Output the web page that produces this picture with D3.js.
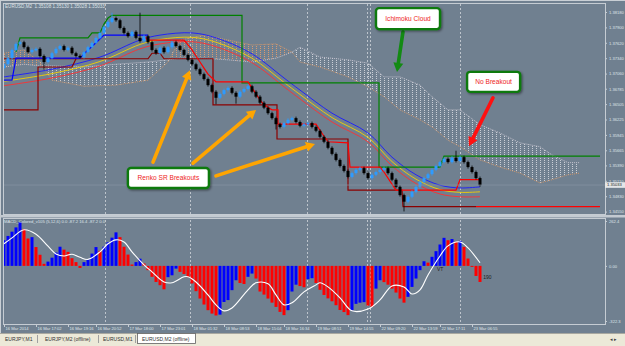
<!DOCTYPE html>
<html>
<head>
<meta charset="utf-8">
<script src="https://cdn.jsdelivr.net/npm/d3@7"></script>
<style>
  body { margin: 0; background: #708090; }
  svg { display: block; }
</style>
</head>
<body>
<svg id="chart" width="625" height="346"></svg>
<script>
// EURUSD M2 (offline renko) with Ichimoku, MA bands, Renko SR lines and MACD_Colored

// ---- price bars (close of each bar, open = previous close) ----
var firstOpen = 1.3716;
var closes = [
  1.3723, 1.3734, 1.3749, 1.3760, 1.3763, 1.3754, 1.3745, 1.3749, 1.3751, 1.3738,
  1.3727, 1.3734, 1.3743, 1.3751, 1.3756, 1.3749, 1.3753, 1.3743, 1.3738, 1.3736,
  1.3745, 1.3754, 1.3762, 1.3771, 1.3780, 1.3791, 1.3800, 1.3807, 1.3803, 1.3789,
  1.3780, 1.3774, 1.3782, 1.3771, 1.3765, 1.3774, 1.3763, 1.3749, 1.3743, 1.3753,
  1.3745, 1.3754, 1.3763, 1.3756, 1.3749, 1.3740, 1.3731, 1.3723, 1.3714, 1.3705,
  1.3696, 1.3685, 1.3673, 1.3662, 1.3669, 1.3676, 1.3680, 1.3671, 1.3664, 1.3673,
  1.3678, 1.3683, 1.3673, 1.3664, 1.3653, 1.3644, 1.3634, 1.3625, 1.3614, 1.3609,
  1.3616, 1.3622, 1.3625, 1.3618, 1.3611, 1.3614, 1.3616, 1.3609, 1.3602, 1.3591,
  1.3582, 1.3571, 1.3560, 1.3549, 1.3538, 1.3529, 1.3518, 1.3525, 1.3531, 1.3534,
  1.3525, 1.3516, 1.3522, 1.3527, 1.3531, 1.3534, 1.3525, 1.3513, 1.3500, 1.3485,
  1.3473, 1.3482, 1.3491, 1.3500, 1.3509, 1.3516, 1.3523, 1.3531, 1.3538, 1.3545,
  1.3551, 1.3545, 1.3553, 1.3547, 1.3554, 1.3545, 1.3536, 1.3527, 1.3516, 1.3503
];
// bars with visible wicks
var spikeIdx  = [10, 27, 34, 53, 58, 68, 100, 113];
var spikeHigh = [null, 1.3814, 1.3814, null, null, null, null, 1.3563];
var spikeLow  = [1.3716, null, null, 1.3653, 1.3654, 1.3607, 1.3458, null];
var lastPrice = 1.35033;

// ---- MA band (blue / yellow / red) ----
var maIdx    = [0, 12, 24, 34, 39, 47, 53, 62, 70, 74, 82, 91, 97, 103, 109, 114, 119];
var maBlue   = [1.3700, 1.3714, 1.3736, 1.3767, 1.3776, 1.3780, 1.3771, 1.3742, 1.3698, 1.3676, 1.3634, 1.3598, 1.3554, 1.3522, 1.3503, 1.3498, 1.3500];
var maYellow = [1.3692, 1.3706, 1.3728, 1.3759, 1.3768, 1.3772, 1.3763, 1.3734, 1.3690, 1.3668, 1.3626, 1.3590, 1.3546, 1.3514, 1.3495, 1.3490, 1.3491];
var maRed    = [1.3684, 1.3698, 1.3720, 1.3751, 1.3760, 1.3764, 1.3755, 1.3726, 1.3682, 1.3660, 1.3618, 1.3582, 1.3538, 1.3506, 1.3487, 1.3482, 1.3482];

// ---- Ichimoku cloud (shifted forward) ----
var cloudIdx = [0, 5, 9, 12, 20, 28, 36, 41, 44, 50, 56, 62, 68, 72, 74, 79, 86, 91, 95, 99, 104, 107, 111, 114, 119, 124, 129, 134, 137, 141, 144];
var spanA = [1.3743, 1.3749, 1.3727, 1.3694, 1.3683, 1.3685, 1.3694, 1.3727, 1.3767, 1.3776, 1.3767, 1.3758, 1.3760, 1.3745, 1.3727, 1.3718,
             1.3700, 1.3682, 1.3664, 1.3640, 1.3622, 1.3609, 1.3585, 1.3573, 1.3549, 1.3536, 1.3525, 1.3507, 1.3513, 1.3522, 1.3525];
var spanB = [1.3718, 1.3723, 1.3720, 1.3720, 1.3718, 1.3723, 1.3727, 1.3731, 1.3734, 1.3734, 1.3731, 1.3727, 1.3734, 1.3745, 1.3754, 1.3736,
             1.3731, 1.3725, 1.3700, 1.3700, 1.3685, 1.3664, 1.3640, 1.3640, 1.3613, 1.3598, 1.3580, 1.3573, 1.3558, 1.3544, 1.3544];

// ---- step lines [bar, price] ----
var greenLine = [[3, 1.3745], [4, 1.3771], [21, 1.3771], [22, 1.3780], [24, 1.3780], [25, 1.3796], [26, 1.3807], [27, 1.3812],
                 [59.5, 1.3812], [59.5, 1.3689], [93.75, 1.3689], [93.75, 1.3536], [109, 1.3536], [110, 1.3556], [149, 1.3556]];
var blueStep = [[0, 1.3694], [2, 1.3694], [3, 1.3734], [19, 1.3734], [21, 1.3749], [23, 1.3762], [25, 1.3776], [36, 1.3776]];
var maroonHook = [[0, 1.3640], [8.5, 1.3640], [8.5, 1.3718], [17, 1.3718], [18, 1.3733]];
var supportLine = [[0, 1.3733], [36, 1.3733], [37, 1.3743], [39, 1.3743], [40, 1.3733], [52.25, 1.3733], [52.25, 1.3649], [68.25, 1.3649],
                   [68.25, 1.3587], [86, 1.3587], [86, 1.3494], [99.5, 1.3494], [99.75, 1.3464], [118, 1.3464]];
var supportExt = [[118, 1.3464], [149, 1.3464]];
var resistLine = [[35, 1.3774], [36, 1.3767], [45, 1.3767], [46, 1.3758], [47, 1.3749], [48, 1.3738], [49, 1.3727], [50, 1.3716], [51, 1.3705],
                  [52, 1.3698], [53, 1.3691], [61, 1.3691], [62, 1.3680], [63, 1.3669], [64, 1.3658], [65, 1.3649], [67, 1.3640], [68.5, 1.3640],
                  [68.5, 1.3614], [78, 1.3614], [79, 1.3603], [80, 1.3592], [81, 1.3582], [86, 1.3580], [86.5, 1.3536], [94, 1.3536],
                  [95, 1.3527], [96, 1.3516], [97, 1.3505], [98, 1.3494], [113, 1.3494], [114, 1.3513], [119, 1.3513]];

// ---- vertical lines (bar positions) ----
var vlines = [25.25, 46.5, 75.75, 90.75, 91.5, 114];

// ---- MACD_Colored ----
var macdHist = [
  150, 175, 200, 225, 255, 215, 160, 168, 110, 65,
  12, 25, 48, 78, 112, 95, 82, 45, 22, -12,
  22, 40, 72, 110, 88, 112, 138, 165, 196, 168,
  112, 66, 8, 22, 42, 14, -25, -64, -94, -113,
  -137, -66, -55, -16, -35, -48, -66, -103, -148, -191,
  -226, -259, -279, -290, -285, -211, -200, -142, -84, -100,
  -106, -64, -45, -74, -150, -168, -191, -215, -240, -269,
  -288, -259, -150, -110, -118, -125, -78, -72, -100, -140,
  -170, -190, -207, -230, -258, -270, -288, -260, -222, -215,
  -212, -232, -240, -133, -84, -95, -110, -133, -156, -191,
  -215, -181, -123, -74, -25, 27, 19, 53, 86, 125,
  164, 150, 157, 140, 146, 111, 43, -6, -59, -94
];
var sigIdx = [0, 2, 5, 8, 11, 13, 15, 17, 19, 21, 24, 26, 28, 30, 32, 35, 37, 40, 42, 45,
              46, 48, 51, 53, 55, 57, 61, 63, 66, 68, 70, 72, 75, 78, 79, 81, 84, 87, 91, 94,
              97, 100, 102, 104, 106, 109, 111, 114, 116, 119];
var sigVal = [129, 164, 211, 185, 115, 70, 58, 68, 50, 38, 82, 129, 152, 140, 82, 6, -35, -94, -99, -64,
              -64, -94, -170, -228, -263, -246, -140, -99, -105, -170, -228, -216, -152, -111, -99, -123, -187, -263, -252, -199,
              -117, -123, -164, -140, -53, 58, 117, 140, 105, 18];
var macdNotes = [[108.25, -23, "VT"], [119.8, -70, "190"]];

// ---- axes / texts ----
var priceTicks = ["1.38180", "1.37900", "1.37620", "1.37340", "1.37060", "1.36785", "1.36505",
                  "1.36225", "1.35945", "1.35665", "1.35390", "1.35110", "1.34830", "1.34550"];
var macdTicks = [262.4, 0, -322.3];
var macdTickText = ["262.4", "0.00", "-322.3"];
var timeIdx = [0, 8, 16, 23, 31, 39, 47, 55, 63, 70, 78, 86, 94, 102, 109, 117];
var timeText = ["16 Mar 2014", "16 Mar 17:02", "16 Mar 19:16", "16 Mar 20:52", "17 Mar 18:00", "17 Mar 23:01",
                "18 Mar 01:32", "18 Mar 08:53", "18 Mar 15:04", "18 Mar 16:34", "19 Mar 08:51", "19 Mar 14:55",
                "22 Mar 09:20", "22 Mar 13:59", "22 Mar 17:11", "23 Mar 06:55"];
var tabs = ["EURJPY,M1", "EURJPY,M2 (offline)", "EURUSD,M1", "EURUSD,M2 (offline)"];
var titleText = "EURUSD,M2  1.35108 1.35130 1.35028 1.35033";
var macdTitle = "MACD_Colored_v105 (5,12,6) 0.0 -87.2 16.4 -87.2 0.0";

// annotations: box centre [bar, price], arrows [bar, price] tail -> head
var boxes = [
  { i: 41.1, p: 1.3516, w: 81, h: 20, text: "Renko SR Breakouts" },
  { i: 101,  p: 1.3806, w: 64, h: 21, text: "Ichimoku Cloud" },
  { i: 122.4, p: 1.3691, w: 53, h: 20, text: "No Breakout" }
];
var arrows = [
  { from: [37.25, 1.3545], to: [46.5, 1.3712], color: "#ffa500" },
  { from: [47.25, 1.3543], to: [63, 1.3640], color: "#ffa500" },
  { from: [53, 1.3520], to: [77.75, 1.3578], color: "#ffa500" },
  { from: [99.75, 1.3782], to: [98.25, 1.3709], color: "#138a13" },
  { from: [122.25, 1.3662], to: [116.25, 1.3574], color: "#ff1010" }
];

// ================= drawing =================
var svg = d3.select("#chart");
var fontSmall = "'Liberation Sans', Arial, sans-serif";
var lightText = "#dfe4e9";

var x = d3.scaleLinear().domain([0, 119]).range([4, 480]);
var y = d3.scaleLinear().domain([1.3455, 1.3818]).range([211.6, 12]);
var ym = d3.scaleLinear().domain([-322.3, 262.4]).range([321, 221]);

var defs = svg.append("defs");
defs.append("clipPath").attr("id", "clipMain")
    .append("rect").attr("x", 4).attr("y", 4).attr("width", 601).attr("height", 210);
defs.append("clipPath").attr("id", "clipSub")
    .append("rect").attr("x", 4).attr("y", 219).attr("width", 601).attr("height", 105);

function dots(id, color) {
  var pat = defs.append("pattern").attr("id", id)
      .attr("patternUnits", "userSpaceOnUse")
      .attr("width", 4).attr("height", 2);
  pat.append("rect").attr("x", 0).attr("y", 0).attr("width", 1).attr("height", 1).attr("fill", color);
}
dots("dotWhite", "#c9ced6");
dots("dotOrange", "#d99a70");

var shadow = defs.append("filter").attr("id", "shadow").attr("x", "-20%").attr("y", "-30%")
    .attr("width", "140%").attr("height", "170%");
shadow.append("feDropShadow").attr("dx", 1.2).attr("dy", 1.2).attr("stdDeviation", 0.8)
    .attr("flood-color", "#000").attr("flood-opacity", 0.45);

// background + frames
svg.append("rect").attr("width", 625).attr("height", 346).attr("fill", "#708090");
svg.append("line").attr("x1", 0.5).attr("x2", 0.5).attr("y1", 0).attr("y2", 333).attr("stroke", "#c9cfd5");
svg.append("line").attr("x1", 0).attr("x2", 625).attr("y1", 0.5).attr("y2", 0.5).attr("stroke", "#c9cfd5");
svg.append("rect").attr("x", 0).attr("y", 215).attr("width", 625).attr("height", 2.5).attr("fill", "#c3cad1");
svg.append("rect").attr("x", 3.5).attr("y", 3.5).attr("width", 602).attr("height", 211)
    .attr("fill", "none").attr("stroke", "#c5ccd3");
svg.append("rect").attr("x", 3.5).attr("y", 218.5).attr("width", 602).attr("height", 106)
    .attr("fill", "none").attr("stroke", "#c5ccd3");

var main = svg.append("g").attr("clip-path", "url(#clipMain)");
var sub = svg.append("g").attr("clip-path", "url(#clipSub)");

// ---- Ichimoku cloud ----
var cloud = cloudIdx.map(function (d, k) { return { i: d, a: spanA[k], b: spanB[k] }; });
main.append("path").datum(cloud)
    .attr("fill", "url(#dotOrange)")
    .attr("d", d3.area().x(function (d) { return x(d.i); })
      .y0(function (d) { return y(d.b); })
      .y1(function (d) { return y(Math.max(d.a, d.b)); }));
main.append("path").datum(cloud)
    .attr("fill", "url(#dotWhite)")
    .attr("d", d3.area().x(function (d) { return x(d.i); })
      .y0(function (d) { return y(d.a); })
      .y1(function (d) { return y(Math.max(d.a, d.b)); }));
main.append("path").datum(cloud)
    .attr("fill", "none").attr("stroke", "#e39a62").attr("stroke-width", 0.8).attr("stroke-dasharray", "1,1")
    .attr("d", d3.line().x(function (d) { return x(d.i); }).y(function (d) { return y(d.a); }));
main.append("path").datum(cloud)
    .attr("fill", "none").attr("stroke", "#d6d0dc").attr("stroke-width", 0.8).attr("stroke-dasharray", "1,1")
    .attr("d", d3.line().x(function (d) { return x(d.i); }).y(function (d) { return y(d.b); }));

// ---- vertical dotted lines ----
[main, sub].forEach(function (g) {
  g.selectAll("line.vl").data(vlines).enter().append("line").attr("class", "vl")
      .attr("x1", function (d) { return Math.round(x(d)) + 0.5; })
      .attr("x2", function (d) { return Math.round(x(d)) + 0.5; })
      .attr("y1", 0).attr("y2", 346)
      .attr("stroke", "#d0d6dc").attr("stroke-width", 0.8).attr("stroke-dasharray", "2,2");
});

// ---- MA band ----
var maLine = d3.line().curve(d3.curveCatmullRom.alpha(0.5))
    .x(function (d) { return x(d[0]); }).y(function (d) { return y(d[1]); });
[[maRed, "#ff3030"], [maYellow, "#f5d000"], [maBlue, "#1a1aff"]].forEach(function (s) {
  main.append("path").datum(maIdx.map(function (d, k) { return [d, s[0][k]]; }))
      .attr("fill", "none").attr("stroke", s[1]).attr("stroke-width", 0.9).attr("d", maLine);
});

// ---- step lines ----
var stepLine = d3.line().x(function (d) { return x(d[0]); }).y(function (d) { return y(d[1]); });
function drawStep(data, color, w) {
  main.append("path").datum(data).attr("fill", "none").attr("stroke", color)
      .attr("stroke-width", w).attr("d", stepLine);
}
drawStep(maroonHook, "#8b0000", 1.2);
drawStep(supportLine, "#8b0000", 1.2);
drawStep(supportExt, "#ff0000", 1.2);
drawStep(blueStep, "#0000ff", 1.2);
drawStep(greenLine, "#008000", 1.2);
drawStep(resistLine, "#ff0000", 1.2);

// ---- candles ----
var bars = closes.map(function (c, i) {
  var o = i === 0 ? firstOpen : closes[i - 1];
  var k = spikeIdx.indexOf(i);
  var hi = Math.max(o, c), lo = Math.min(o, c);
  if (k >= 0 && spikeHigh[k] !== null) hi = spikeHigh[k];
  if (k >= 0 && spikeLow[k] !== null) lo = spikeLow[k];
  return { i: i, o: o, c: c, hi: hi, lo: lo };
});
var cg = main.append("g");
cg.selectAll("line").data(bars).enter().append("line")
    .attr("x1", function (d) { return x(d.i); }).attr("x2", function (d) { return x(d.i); })
    .attr("y1", function (d) { return y(d.hi) - 1.5; }).attr("y2", function (d) { return y(d.lo) + 1.5; })
    .attr("stroke", function (d) { return d.c >= d.o ? "#2e9bff" : "#000"; }).attr("stroke-width", 0.8);
cg.selectAll("rect").data(bars).enter().append("rect")
    .attr("x", function (d) { return x(d.i) - 1.5; }).attr("width", 3)
    .attr("y", function (d) { return y(Math.max(d.o, d.c)); })
    .attr("height", function (d) { return Math.max(1.5, Math.abs(y(d.o) - y(d.c))); })
    .attr("fill", function (d) { return d.c >= d.o ? "#2e9bff" : "#000"; });

// bid line
main.append("line").attr("x1", 4).attr("x2", 605)
    .attr("y1", y(lastPrice)).attr("y2", y(lastPrice))
    .attr("stroke", "#8795a3").attr("stroke-width", 0.7);

// ---- MACD ----
sub.selectAll("rect.h").data(macdHist).enter().append("rect").attr("class", "h")
    .attr("x", function (d, i) { return x(i) - 1.5; }).attr("width", 3)
    .attr("y", function (d) { return Math.min(ym(d), ym(0)); })
    .attr("height", function (d) { return Math.abs(ym(d) - ym(0)); })
    .attr("fill", function (d, i) { return (i === 0 || d > macdHist[i - 1]) ? "#0000ff" : "#ff0000"; });
sub.append("path").datum(sigIdx.map(function (d, k) { return [d, sigVal[k]]; }))
    .attr("fill", "none").attr("stroke", "#ffffff").attr("stroke-width", 1.1)
    .attr("d", d3.line().curve(d3.curveCatmullRom.alpha(0.5))
      .x(function (d) { return x(d[0]); }).y(function (d) { return ym(d[1]); }));
sub.selectAll("text.note").data(macdNotes).enter().append("text").attr("class", "note")
    .attr("x", function (d) { return x(d[0]); }).attr("y", function (d) { return ym(d[1]); })
    .attr("font-family", fontSmall).attr("font-size", 5).attr("fill", "#202020")
    .attr("dominant-baseline", "middle")
    .text(function (d) { return d[2]; });

// ---- annotations ----
arrows.forEach(function (a) {
  var x0 = x(a.from[0]), y0 = y(a.from[1]), x1 = x(a.to[0]), y1 = y(a.to[1]);
  var ang = Math.atan2(y1 - y0, x1 - x0), hl = 9, hw = 5;
  var bx = x1 - hl * Math.cos(ang), by = y1 - hl * Math.sin(ang);
  var nx = -Math.sin(ang), ny = Math.cos(ang);
  svg.append("line").attr("x1", x0).attr("y1", y0).attr("x2", bx).attr("y2", by)
      .attr("stroke", a.color).attr("stroke-width", 3.6).attr("stroke-linecap", "round");
  svg.append("path")
      .attr("d", "M" + x1 + "," + y1 + "L" + (bx + nx * hw) + "," + (by + ny * hw) +
                 "L" + (bx - nx * hw) + "," + (by - ny * hw) + "Z")
      .attr("fill", a.color);
});
boxes.forEach(function (b) {
  var cx = x(b.i), cy = y(b.p);
  svg.append("rect").attr("x", cx - b.w / 2).attr("y", cy - b.h / 2)
      .attr("width", b.w).attr("height", b.h).attr("rx", 3)
      .attr("fill", "#ffffff").attr("stroke", "#0f7a0f").attr("stroke-width", 2.4)
      .attr("filter", "url(#shadow)");
  svg.append("text").attr("x", cx).attr("y", cy + 0.5)
      .attr("text-anchor", "middle").attr("dominant-baseline", "middle")
      .attr("font-family", fontSmall).attr("font-size", 6.6).attr("fill", "#ee1c1c")
      .text(b.text);
});

// ---- axes ----
var ax = svg.append("g").attr("transform", "translate(605,0)")
    .call(d3.axisRight(y).tickValues(priceTicks.map(Number))
      .tickFormat(function (d, k) { return priceTicks[k]; }).tickSize(2).tickPadding(2));
var axm = svg.append("g").attr("transform", "translate(605,0)")
    .call(d3.axisRight(ym).tickValues(macdTicks)
      .tickFormat(function (d, k) { return macdTickText[k]; }).tickSize(2).tickPadding(2));
var axt = svg.append("g").attr("transform", "translate(0,324)")
    .call(d3.axisBottom(x).tickValues(timeIdx)
      .tickFormat(function (d, k) { return timeText[k]; }).tickSize(3));
[ax, axm, axt].forEach(function (g) {
  g.select(".domain").remove();
  g.selectAll("line").attr("stroke", "#c5ccd3");
  g.selectAll("text").attr("fill", lightText).attr("font-family", fontSmall).attr("font-size", 4.1);
});
axt.selectAll("text").attr("text-anchor", "start").attr("x", 1).attr("y", 3).attr("dy", "0.71em");

// last price box
svg.append("rect").attr("x", 605).attr("y", y(lastPrice) - 2.8).attr("width", 20).attr("height", 5.6)
    .attr("fill", "#e4e6e8");
svg.append("text").attr("x", 607).attr("y", y(lastPrice)).attr("dominant-baseline", "middle")
    .attr("font-family", fontSmall).attr("font-size", 4.1).attr("fill", "#202020").text(lastPrice.toFixed(5));

// titles
svg.append("text").attr("x", 5).attr("y", 8).attr("font-family", fontSmall).attr("font-size", 4.6)
    .attr("fill", lightText).attr("xml:space", "preserve").text(titleText);
svg.append("text").attr("x", 4).attr("y", 223).attr("font-family", fontSmall).attr("font-size", 4.2)
    .attr("fill", lightText).text(macdTitle);

// ---- tab bar ----
svg.append("rect").attr("x", 0).attr("y", 333).attr("width", 625).attr("height", 13).attr("fill", "#ece9d8");
svg.append("line").attr("x1", 0).attr("x2", 625).attr("y1", 333.5).attr("y2", 333.5).attr("stroke", "#a8a8a0");
var tabX = [5, 45, 103, 142];
var tabSep = [37, 98, 135];
svg.append("rect").attr("x", 137.5).attr("y", 333.5).attr("width", 58).attr("height", 10)
    .attr("fill", "#ffffff").attr("stroke", "#606060").attr("stroke-width", 0.8);
tabSep.forEach(function (s) {
  svg.append("line").attr("x1", s + 0.5).attr("x2", s + 0.5).attr("y1", 335).attr("y2", 343).attr("stroke", "#a0a0a0");
});
tabs.forEach(function (t, k) {
  svg.append("text").attr("x", tabX[k]).attr("y", 340.5).attr("font-family", fontSmall)
      .attr("font-size", 5).attr("fill", "#303030").text(t);
});
svg.append("text").attr("x", 610).attr("y", 341).attr("font-family", fontSmall).attr("font-size", 5)
    .attr("fill", "#404040").text("\u25C2  \u25B8");
</script>
</body>
</html>
